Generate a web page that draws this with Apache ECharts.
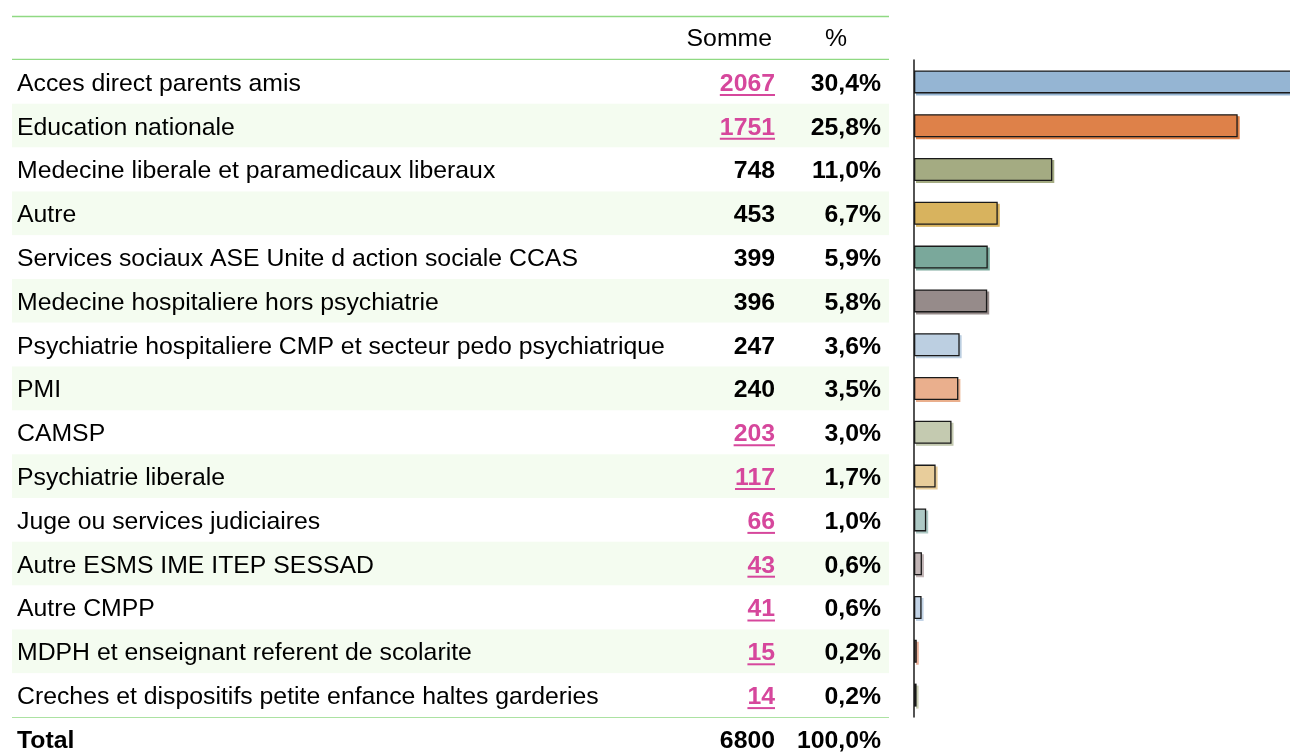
<!DOCTYPE html>
<html>
<head>
    <meta charset="utf-8">
    <title>Somme par origine</title>
    <script src="https://cdn.jsdelivr.net/npm/echarts@6/dist/echarts.min.js"></script>
    <style>
        html, body { margin: 0; padding: 0; background: #fff; }
        #main { width: 1290px; height: 754px; }
    </style>
</head>
<body>
    <div id="main"></div>
    <script type="text/javascript">
        // donnees du tableau
        var categories = [
            'Acces direct parents amis',
            'Education nationale',
            'Medecine liberale et paramedicaux liberaux',
            'Autre',
            'Services sociaux ASE Unite d action sociale CCAS',
            'Medecine hospitaliere hors psychiatrie',
            'Psychiatrie hospitaliere CMP et secteur pedo psychiatrique',
            'PMI',
            'CAMSP',
            'Psychiatrie liberale',
            'Juge ou services judiciaires',
            'Autre ESMS IME ITEP SESSAD',
            'Autre CMPP',
            'MDPH et enseignant referent de scolarite',
            'Creches et dispositifs petite enfance haltes garderies'
        ];
        var sums = [2067, 1751, 748, 453, 399, 396, 247, 240, 203, 117, 66, 43, 41, 15, 14];
        var percents = ['30,4%', '25,8%', '11,0%', '6,7%', '5,9%', '5,8%', '3,6%', '3,5%',
                        '3,0%', '1,7%', '1,0%', '0,6%', '0,6%', '0,2%', '0,2%'];
        var linked = [true, true, false, false, false, false, false, false,
                      true, true, true, true, true, true, true];
        var barColors = ['#95b5d3', '#de8149', '#a4ab82', '#d8b35e', '#7aa89b', '#968b8a',
                         '#bccfe1', '#eaaf8d', '#c4cab0', '#e8cd9b', '#adc9c5', '#c2b5b6',
                         '#c2d3e6', '#ecb29a', '#cbd0b5'];
        var headerSum = 'Somme', headerPct = '%';
        var totalLabel = 'Total', totalSum = 6800, totalPct = '100,0%';

        var FONT = '"Liberation Sans", Arial, sans-serif';
        var FS = 24.8;
        var MAGENTA = '#d6479c';
        var GREEN = '#90d983';
        var LABEL_LEFT = 17, SUM_RIGHT = 775, PCT_RIGHT = 881;
        var DY = 2; // petit decalage vertical du texte

        var measure = document.createElement('canvas').getContext('2d');
        function textWidth(str) {
            measure.font = 'bold ' + FS + 'px ' + FONT;
            return measure.measureText(str).width;
        }

        var myChart = echarts.init(document.getElementById('main'), null, {renderer: 'canvas'});

        var option = {
            animation: false,
            textStyle: {fontFamily: FONT},
            grid: [
                {left: 12, top: 60, width: 877, height: 657},
                {left: 914, top: 60, right: 0, height: 657}
            ],
            xAxis: [
                {type: 'value', gridIndex: 0, min: 0, max: 1, show: false},
                {type: 'value', gridIndex: 1, min: 0, max: 2034, show: false}
            ],
            yAxis: [
                {
                    type: 'category', gridIndex: 0, inverse: true, data: categories,
                    axisLine: {show: false}, axisTick: {show: false},
                    splitLine: {show: false}, axisLabel: {show: false},
                    splitArea: {show: true, areaStyle: {color: ['#ffffff', '#f4fcf0']}}
                },
                {
                    type: 'category', gridIndex: 1, inverse: true, data: categories,
                    axisLine: {show: true, lineStyle: {color: '#1a1a1a', width: 1.5}},
                    axisTick: {show: false}, axisLabel: {show: false},
                    splitLine: {show: false}
                }
            ],
            graphic: [
                {type: 'line', shape: {x1: 12, y1: 16.5, x2: 889, y2: 16.5}, style: {stroke: GREEN, lineWidth: 1.5}},
                {type: 'line', shape: {x1: 12, y1: 59.5, x2: 889, y2: 59.5}, style: {stroke: GREEN, lineWidth: 1.5}},
                {type: 'line', shape: {x1: 12, y1: 717, x2: 889, y2: 717}, style: {stroke: GREEN, lineWidth: 1.5}},
                {type: 'text', style: {text: headerSum, x: 772, y: 39, align: 'right', verticalAlign: 'middle',
                    font: FS + 'px ' + FONT, fill: '#000'}},
                {type: 'text', style: {text: headerPct, x: 836, y: 39, align: 'center', verticalAlign: 'middle',
                    font: FS + 'px ' + FONT, fill: '#000'}},
                {type: 'text', style: {text: totalLabel, x: LABEL_LEFT, y: 741, align: 'left', verticalAlign: 'middle',
                    font: 'bold ' + FS + 'px ' + FONT, fill: '#000'}},
                {type: 'text', style: {text: String(totalSum), x: SUM_RIGHT, y: 741, align: 'right', verticalAlign: 'middle',
                    font: 'bold ' + FS + 'px ' + FONT, fill: '#000'}},
                {type: 'text', style: {text: totalPct, x: PCT_RIGHT, y: 741, align: 'right', verticalAlign: 'middle',
                    font: 'bold ' + FS + 'px ' + FONT, fill: '#000'}}
            ],
            series: [
                {
                    // libelle, colonnes Somme et %
                    type: 'custom',
                    xAxisIndex: 0, yAxisIndex: 0,
                    data: categories.map(function (c, i) { return [0, i]; }),
                    encode: {x: 0, y: 1},
                    silent: true,
                    renderItem: function (params, api) {
                        var i = api.value(1);
                        var y = api.coord([0, i])[1] + DY;
                        var s = String(sums[i]);
                        var font = 'bold ' + FS + 'px ' + FONT;
                        var children = [
                            {type: 'text', style: {text: categories[i], x: LABEL_LEFT, y: y, align: 'left', verticalAlign: 'middle',
                                font: FS + 'px ' + FONT, fill: '#000'}},
                            {type: 'text', style: {text: s, x: SUM_RIGHT, y: y, align: 'right', verticalAlign: 'middle',
                                font: font, fill: linked[i] ? MAGENTA : '#000'}},
                            {type: 'text', style: {text: percents[i], x: PCT_RIGHT, y: y, align: 'right', verticalAlign: 'middle',
                                font: font, fill: '#000'}}
                        ];
                        if (linked[i]) {
                            var w = textWidth(s);
                            children.push({type: 'line',
                                shape: {x1: SUM_RIGHT - w, y1: y + 11, x2: SUM_RIGHT, y2: y + 11},
                                style: {stroke: MAGENTA, lineWidth: 2}});
                        }
                        return {type: 'group', children: children};
                    }
                },
                {
                    type: 'bar',
                    xAxisIndex: 1, yAxisIndex: 1,
                    barWidth: 23,
                    data: sums.map(function (v, i) {
                        return {
                            value: v,
                            itemStyle: {
                                color: barColors[i],
                                borderColor: '#1a1a1a', borderWidth: 1.3,
                                shadowColor: barColors[i], shadowBlur: 0,
                                shadowOffsetX: 2, shadowOffsetY: 2
                            }
                        };
                    }),
                    clip: false,
                    silent: true
                }
            ]
        };

        myChart.setOption(option);
    </script>
</body>
</html>
